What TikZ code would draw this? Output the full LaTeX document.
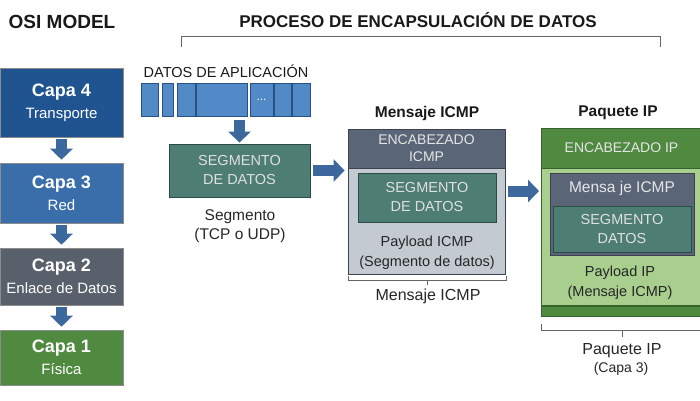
\documentclass[tikz,border=0pt]{standalone}
\usepackage{fontspec}
\setmainfont{Liberation Sans}
\usetikzlibrary{arrows.meta, positioning}
\definecolor{capafour}{RGB}{31,84,145}
\definecolor{capathree}{RGB}{58,110,170}
\definecolor{capatwo}{RGB}{88,96,107}
\definecolor{capaone}{RGB}{79,138,64}
\definecolor{arrowblue}{RGB}{61,104,158}
\definecolor{datablue}{RGB}{82,138,200}
\definecolor{dataedge}{RGB}{40,80,130}
\definecolor{segteal}{RGB}{77,125,115}
\definecolor{segedge}{RGB}{45,75,70}
\definecolor{icmpgray}{RGB}{90,102,120}
\definecolor{icmplight}{RGB}{196,202,210}
\definecolor{icmpedge}{RGB}{60,66,78}
\definecolor{ipgreen}{RGB}{79,138,64}
\definecolor{iplight}{RGB}{169,207,142}
\definecolor{ipedge}{RGB}{55,100,45}

\begin{document}
\begin{tikzpicture}[x=1pt, y=-1pt,
    capa/.style ={rectangle, draw=black!45, line width=0.6pt, text=white,
                  minimum width=123pt, inner sep=0pt, align=center,
                  font=\fontsize{15}{22}\selectfont},
    dat/.style  ={rectangle, draw=dataedge, fill=datablue, line width=0.6pt,
                  minimum height=33pt, inner sep=0pt},
    seg/.style  ={rectangle, draw=segedge, fill=segteal, line width=0.8pt,
                  text=white!88!black, align=center, inner sep=0pt,
                  font=\fontsize{14.5}{19}\selectfont},
    hdr/.style  ={rectangle, line width=0.8pt, text=white!90!black,
                  align=center, inner sep=0pt,
                  font=\fontsize{14}{17}\selectfont},
    body/.style ={rectangle, line width=0.8pt, inner sep=0pt},
    txt/.style  ={align=center, inner sep=0pt, text=black!85,
                  font=\fontsize{14.5}{20}\selectfont},
    ttl/.style  ={inner sep=0pt, text=black!90},
    brk/.style  ={draw=black!60, line width=0.8pt},
    bigarrow/.style={-{Triangle[width=22pt,length=11pt]}, line width=11pt,
                  draw=arrowblue}
]
\useasboundingbox (0,0) rectangle (700,400);

% ============================================================
% TITULOS
% ============================================================

\node[ttl, font=\fontsize{19}{22}\selectfont\bfseries] (osi)  at (62,22)
     {OSI MODEL};
\node[ttl, font=\fontsize{17}{20}\selectfont\bfseries] (proc) at (418,20)
     {PROCESO DE ENCAPSULACIÓN DE DATOS};
\draw[brk] (181,47) -- (181,36) -- (660,36) -- (660,47);

% ============================================================
% MODELO OSI (columna izquierda)
% ============================================================

\node[capa, fill=capafour,  minimum height=69pt] (c4) at (61.5,102.5)
     {{\fontsize{18}{22}\selectfont\bfseries Capa 4}\\Transporte};
\node[capa, fill=capathree, minimum height=60pt] (c3) at (61.5,193)
     {{\fontsize{18}{22}\selectfont\bfseries Capa 3}\\Red};
\node[capa, fill=capatwo,   minimum height=57pt] (c2) at (61.5,276.5)
     {{\fontsize{18}{22}\selectfont\bfseries Capa 2}\\Enlace de Datos};
\node[capa, fill=capaone,   minimum height=55pt] (c1) at (61.5,357.5)
     {{\fontsize{18}{22}\selectfont\bfseries Capa 1}\\Física};

% ============================================================
% DATOS DE APLICACION -> SEGMENTO
% ============================================================

\node[ttl, font=\fontsize{14.5}{17}\selectfont] (dl) at (226,71)
     {DATOS DE APLICACIÓN};
\node[dat, minimum width=17pt] (d1) at (149.5,99.5) {};
\node[dat, minimum width=11pt] (d2) at (167.5,99.5) {};
\node[dat, minimum width=18pt] (d3) at (186,99.5)   {};
\node[dat, minimum width=51pt] (d4) at (221.5,99.5) {};
\node[dat, minimum width=23pt, text=white,
      font=\fontsize{12}{12}\selectfont] (d5) at (261.5,99.5) {...};
\node[dat, minimum width=17pt] (d6) at (282.5,99.5) {};
\node[dat, minimum width=18pt] (d7) at (301,99.5)   {};

\node[seg, minimum width=141pt, minimum height=53pt] (seg) at (239.5,170.5)
     {SEGMENTO\\DE DATOS};
\node[txt, font=\fontsize{15.5}{19}\selectfont] (segl) at (240,226)
     {Segmento\\(TCP o UDP)};

% ============================================================
% MENSAJE ICMP
% ============================================================

\node[ttl, font=\fontsize{15.5}{18}\selectfont\bfseries] (mt) at (427,113)
     {Mensaje ICMP};
\node[hdr, draw=icmpedge, fill=icmpgray, minimum width=157pt,
      minimum height=39pt] (ih) at (426.5,148.5) {ENCABEZADO\\ICMP};
\node[body, draw=icmpedge, fill=icmplight, minimum width=157pt,
      minimum height=106pt, below=0 of ih] (ib) {};
\node[seg, minimum width=138pt, minimum height=49pt] (is) at (427,197.5)
     {SEGMENTO\\DE DATOS};
\node[txt] (ipl) at (427,253) {Payload ICMP\\(Segmento de datos)};

\draw[brk] (348,276) -- (348,280) -- (506,280) -- (506,276);
\draw[brk] (427,280) -- (427,285);
\node[txt, font=\fontsize{16}{19}\selectfont] (ml) at (428,296)
     {Mensaje ICMP};

% ============================================================
% PAQUETE IP
% ============================================================

\node[ttl, font=\fontsize{15.5}{18}\selectfont\bfseries] (pt) at (618,113)
     {Paquete IP};
\node[hdr, draw=ipedge, fill=ipgreen, minimum width=161pt,
      minimum height=40pt] (ph) at (621.5,148) {ENCABEZADO IP};
\node[body, draw=ipedge, fill=iplight, minimum width=161pt,
      minimum height=137pt, below=0 of ph] (pb) {};
\node[body, draw=ipedge, fill=ipgreen, minimum width=161pt,
      minimum height=10pt, below=0 of pb] (pf) {};
\node[body, draw=icmpedge, fill=icmpgray, minimum width=144pt,
      minimum height=82pt] (pm) at (622,214) {};
\node[hdr, font=\fontsize{15.5}{18}\selectfont] (pmt) at (622,188)
     {Mensa je ICMP};
\node[seg, minimum width=138pt, minimum height=46pt] (ps) at (622,229)
     {SEGMENTO\\DATOS};
\node[txt] (ppl) at (620,283) {Payload IP\\(Mensaje ICMP)};

\draw[brk] (541,324) -- (541,330) -- (702,330);
\draw[brk] (622,330) -- (622,337);
\node[txt, font=\fontsize{16}{19}\selectfont] (pl1) at (622,351)
     {Paquete IP};
\node[txt, font=\fontsize{14}{17}\selectfont] (pl2) at (621,369)
     {(Capa 3)};

% ============================================================
% FLECHAS
% ============================================================

% capas OSI
\draw[bigarrow, shorten <=2pt, shorten >=3pt] (c4) -- (c3);
\draw[bigarrow, shorten <=2pt, shorten >=3pt] (c3) -- (c2);
\draw[bigarrow, shorten <=2pt, shorten >=3pt] (c2) -- (c1);

% datos -> segmento -> ICMP -> IP
\draw[bigarrow, shorten <=4pt, shorten >=1pt] (d4.south -| seg.north) -- (seg.north);
\draw[bigarrow, shorten <=3pt, shorten >=3pt] (seg.east) -- (seg.east -| ib.west);
\coordinate (pin) at (541,191);
\draw[bigarrow, shorten <=3pt, shorten >=2pt] (ib.east |- pin) -- (pin);

\end{tikzpicture}
\end{document}
